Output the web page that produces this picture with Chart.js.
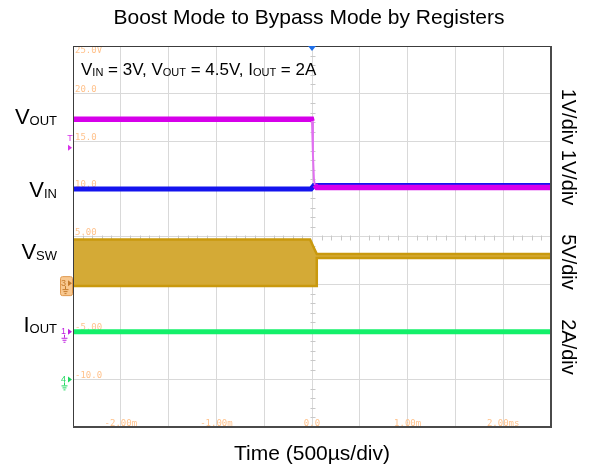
<!DOCTYPE html>
<html><head><meta charset="utf-8">
<script src="https://cdn.jsdelivr.net/npm/chart.js@4.4.0/dist/chart.umd.min.js"></script>
<style>html,body{margin:0;padding:0;background:#fff}#wrap{width:593px;height:470px;position:relative}</style>
</head><body><div id="wrap"><canvas id="c" width="593" height="470"></canvas></div>
<script>
// ---- Data (time in ms, physical values) ----
const timeVout  = [-2.5, -0.005, 0.0, 0.01, 0.02, 0.03, 0.05, 2.5];
const voutVolts = [4.46, 4.46, 4.42, 3.70, 3.20, 3.08, 3.03, 3.03];
const timeVin   = [-2.5, -0.01, 0.02, 2.5];
const vinVolts  = [3.00, 3.00, 3.07, 3.07];
const timeVsw   = [-2.5, -0.02, 0.02, 0.05, 0.05, 2.5];
const vswHigh   = [4.68, 4.68, 3.80, 3.15, 3.15, 3.15];
const vswLow    = [-0.20, -0.20, -0.20, -0.20, 2.75, 2.75];
const timeIout  = [-2.5, 2.5];
const ioutAmps  = [2.0, 2.0];

// channel settings: units per division and ground level (in screen grid units, 5 per div)
const voutPerDiv = 1, voutGround = -5;
const vinPerDiv = 1,  vinGround = -5;
const vswPerDiv = 5,  vswGround = 0;
const ioutPerDiv = 2, ioutGround = -10;
const UNITS_PER_DIV = 5;

// tick labels
const timeTickValues = [-2, -1, 0, 1, 2];
const timeTickLabels = ['-2.00m', '-1.00m', '0.0', '1.00m', '2.00ms'];
const levelTickValues = [25, 20, 15, 10, 5, 0, -5, -10];
const levelTickLabels = ['25.0V', '20.0', '15.0', '10.0', '5.00', '0.0', '-5.00', '-10.0'];
const scaleLabels = [['1V/div 1V/div', 147], ['5V/div', 262], ['2A/div', 347]];

const toScreen = (v, perDiv, ground) => ground + v * UNITS_PER_DIV / perDiv;
const pts = (ts, vs, perDiv, ground) => ts.map((t, i) => ({x: t, y: toScreen(vs[i], perDiv, ground)}));

const voutPts = pts(timeVout, voutVolts, voutPerDiv, voutGround);
const vinPts = pts(timeVin, vinVolts, vinPerDiv, vinGround);
const vswPts = pts(timeVsw, vswHigh, vswPerDiv, vswGround)
  .concat(pts(timeVsw, vswLow, vswPerDiv, vswGround).reverse());
const ioutPts = pts(timeIout, ioutAmps, ioutPerDiv, ioutGround);

const SANS = '"Liberation Sans", Arial, sans-serif';
const MONO = '"DejaVu Sans Mono", monospace';

function drawSub(ctx, parts, x, y, size, subSize, align) {
  const f = p => (p[1] ? subSize : size) + 'px ' + SANS;
  let w = 0;
  for (const p of parts) { ctx.font = f(p); w += ctx.measureText(p[0]).width; }
  let cx = align === 'right' ? x - w : x;
  ctx.textAlign = 'left'; ctx.textBaseline = 'alphabetic';
  for (const p of parts) {
    ctx.font = f(p);
    ctx.fillText(p[0], cx, p[1] ? y + 1 : y);
    cx += ctx.measureText(p[0]).width;
  }
}

function ground(ctx, x, y, color) {
  ctx.strokeStyle = color; ctx.lineWidth = 1;
  ctx.beginPath();
  ctx.moveTo(x + 0.5, y); ctx.lineTo(x + 0.5, y + 3);
  ctx.moveTo(x - 2.5, y + 3.5); ctx.lineTo(x + 3.5, y + 3.5);
  ctx.moveTo(x - 1.5, y + 5.5); ctx.lineTo(x + 2.5, y + 5.5);
  ctx.moveTo(x - 0.5, y + 7.5); ctx.lineTo(x + 1.5, y + 7.5);
  ctx.stroke();
}
function tri(ctx, x, y, color) {
  ctx.fillStyle = color;
  ctx.beginPath(); ctx.moveTo(x, y - 3); ctx.lineTo(x + 4, y); ctx.lineTo(x, y + 3); ctx.closePath(); ctx.fill();
}

const deco = {
  id: 'deco',
  beforeDatasetsDraw(chart) {
    const {ctx, chartArea: a, scales: {x, y}} = chart;
    ctx.save();
    // minor ticks on centre cross
    ctx.strokeStyle = '#c8c8c8'; ctx.lineWidth = 1;
    const cx = Math.round(x.getPixelForValue(0)) + 0.5;
    const cy = Math.round(y.getPixelForValue(5)) + 0.5;
    const dx = (a.right - a.left) / 50, dy = (a.bottom - a.top) / 40;
    ctx.beginPath();
    for (let i = 1; i < 50; i++) { if (i % 5 === 0) continue; const px = Math.round(a.left + i * dx) + 0.5; ctx.moveTo(px, cy - 2); ctx.lineTo(px, cy + 3); }
    for (let i = 1; i < 40; i++) { if (i % 5 === 0) continue; const py = Math.round(a.top + i * dy) + 0.5; ctx.moveTo(cx - 2, py); ctx.lineTo(cx + 3, py); }
    ctx.stroke();
    // grid value labels
    ctx.fillStyle = '#ffc28c'; ctx.font = '9px ' + MONO; ctx.textBaseline = 'alphabetic';
    ctx.textAlign = 'left';
    levelTickValues.forEach((v, i) => {
      const py = y.getPixelForValue(v);
      ctx.fillText(levelTickLabels[i], a.left + 2, i === 0 ? py + 7 : py - 1.5);
    });
    ctx.textAlign = 'center';
    timeTickValues.forEach((v, i) => ctx.fillText(timeTickLabels[i], x.getPixelForValue(v), a.bottom - 1.5));
    ctx.restore();
  },
  afterDraw(chart) {
    const {ctx, chartArea: a, scales: {x, y}} = chart;
    ctx.save();
    // frame
    ctx.strokeStyle = '#3c3c3c'; ctx.lineWidth = 1;
    ctx.beginPath(); ctx.moveTo(a.left + 0.5, a.top); ctx.lineTo(a.left + 0.5, a.bottom);
    ctx.moveTo(a.left, a.top + 0.5); ctx.lineTo(a.right, a.top + 0.5); ctx.stroke();
    ctx.strokeStyle = '#4a4a4a'; ctx.lineWidth = 2;
    ctx.beginPath(); ctx.moveTo(a.right, a.top); ctx.lineTo(a.right, a.bottom + 1);
    ctx.moveTo(a.left, a.bottom); ctx.lineTo(a.right + 1, a.bottom); ctx.stroke();

    // trigger marker top
    const tx = x.getPixelForValue(0);
    ctx.fillStyle = '#1f6fe8';
    ctx.beginPath(); ctx.moveTo(tx - 4, a.top); ctx.lineTo(tx + 4, a.top); ctx.lineTo(tx, a.top + 5); ctx.closePath(); ctx.fill();

    // trigger level marker (T)
    const ty = y.getPixelForValue(15);
    ctx.fillStyle = '#d830ea'; ctx.font = '9px ' + SANS; ctx.textAlign = 'center'; ctx.textBaseline = 'middle';
    ctx.fillText('T', a.left - 3, ty - 3);
    tri(ctx, a.left - 5, ty + 6.5, '#d830ea');

    // channel 3 ground marker (boxed)
    const g3 = y.getPixelForValue(vswGround);
    ctx.fillStyle = '#f8c890'; ctx.strokeStyle = '#e09a50'; ctx.lineWidth = 1;
    ctx.beginPath(); ctx.roundRect(a.left - 12.5, g3 - 7.5, 12, 19, 2); ctx.fill(); ctx.stroke();
    ctx.fillStyle = '#c47a2c'; ctx.font = '9px ' + SANS; ctx.textAlign = 'left';
    ctx.fillText('3', a.left - 12, g3 - 1);
    tri(ctx, a.left - 5, g3 - 1, '#c47a2c');
    ground(ctx, a.left - 8, g3 + 2, '#c47a2c');

    // channel 1 ground marker
    const g1 = y.getPixelForValue(voutGround);
    ctx.fillStyle = '#c020e0'; ctx.font = '9px ' + SANS; ctx.textAlign = 'left';
    ctx.fillText('1', a.left - 12, g1);
    tri(ctx, a.left - 5, g1, '#c020e0');
    ground(ctx, a.left - 9, g1 + 3, '#c020e0');

    // channel 4 ground marker
    const g4 = y.getPixelForValue(ioutGround);
    ctx.fillStyle = '#20d860';
    ctx.fillText('4', a.left - 12, g4);
    tri(ctx, a.left - 5, g4, '#20d860');
    ground(ctx, a.left - 9, g4 + 3, '#20d860');

    // texts
    ctx.fillStyle = '#000';
    ctx.font = '21px ' + SANS; ctx.textAlign = 'center'; ctx.textBaseline = 'alphabetic';
    ctx.fillText('Boost Mode to Bypass Mode by Registers', 309, 24);
    ctx.fillText('Time (500\u00b5s/div)', 312, 460);

    drawSub(ctx, [['V', 0], ['IN', 1], [' = 3V, V', 0], ['OUT', 1], [' = 4.5V, I', 0], ['OUT', 1], [' = 2A', 0]], 81, 75, 17, 11, 'left');
    drawSub(ctx, [['V', 0], ['OUT', 1]], 57, 124, 22, 13, 'right');
    drawSub(ctx, [['V', 0], ['IN', 1]], 57, 196.5, 22, 13, 'right');
    drawSub(ctx, [['V', 0], ['SW', 1]], 57, 259, 22, 13, 'right');
    drawSub(ctx, [['I', 0], ['OUT', 1]], 57, 331.5, 22, 13, 'right');

    ctx.font = '20px ' + SANS; ctx.textAlign = 'center'; ctx.textBaseline = 'alphabetic';
    for (const [txt, cyy] of scaleLabels) {
      ctx.save(); ctx.translate(562, cyy); ctx.rotate(Math.PI / 2);
      ctx.fillText(txt, 0, 0); ctx.restore();
    }
    ctx.restore();
  }
};

new Chart(document.getElementById('c'), {
  type: 'line',
  data: {
    datasets: [
      {label: 'VOUT', data: voutPts, borderColor: '#d600ea', borderWidth: 5.5, pointRadius: 0, tension: 0, fill: false, clip: 0,
       segment: {
         borderWidth: c => (c.p0.parsed.x >= -0.001 && c.p1.parsed.x <= 0.031) ? 2 : undefined,
         borderColor: c => (c.p0.parsed.x >= -0.001 && c.p1.parsed.x <= 0.031) ? '#e070f0' : undefined
       }},
      {label: 'VIN', data: vinPts, borderColor: '#1414ee', borderWidth: 5, pointRadius: 0, tension: 0, fill: false, clip: 0},
      {label: 'VSW', data: vswPts, borderColor: '#c9990e', backgroundColor: '#d4aa36', borderWidth: 2.5, pointRadius: 0, tension: 0, fill: 'shape', clip: 0},
      {label: 'IOUT', data: ioutPts, borderColor: '#14f06a', borderWidth: 5, pointRadius: 0, tension: 0, fill: false, clip: 0}
    ]
  },
  options: {
    responsive: false, animation: false, devicePixelRatio: 1,
    layout: {padding: {left: 73, right: 42, top: 46, bottom: 43}},
    plugins: {legend: {display: false}, tooltip: {enabled: false}, title: {display: false}},
    scales: {
      x: {type: 'linear', min: -2.5, max: 2.5, ticks: {display: false, stepSize: 0.5},
          grid: {color: '#d9d9d9', lineWidth: 1, drawTicks: false}, border: {display: false}},
      y: {type: 'linear', min: -15, max: 25, ticks: {display: false, stepSize: 5},
          grid: {color: '#d9d9d9', lineWidth: 1, drawTicks: false}, border: {display: false}}
    }
  },
  plugins: [deco]
});
</script>
</body></html>
